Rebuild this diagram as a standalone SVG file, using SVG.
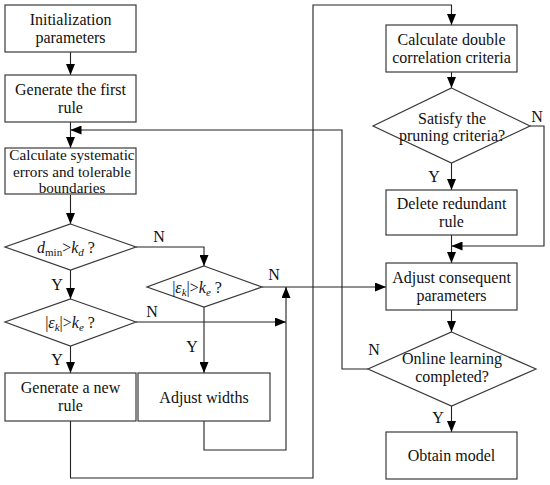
<svg xmlns="http://www.w3.org/2000/svg" width="550" height="485" viewBox="0 0 550 485">
<defs>
<marker id="ah" markerUnits="userSpaceOnUse" markerWidth="11" markerHeight="9" viewBox="0 0 11 9" refX="11" refY="4.5" orient="auto">
<path d="M0,0 L11,4.5 L0,9 Z" fill="#000"/>
</marker>
<style>
.b{fill:#fff;stroke:#3a3a3a;stroke-width:1.2}
.t{font-family:"Liberation Serif","Times New Roman",serif;font-size:16px;fill:#111;text-anchor:middle}
.l{font-family:"Liberation Serif","Times New Roman",serif;font-size:16px;fill:#111;text-anchor:middle}
.c{fill:none;stroke:#222;stroke-width:1.1;marker-end:url(#ah)}
.p{fill:none;stroke:#222;stroke-width:1.1}
.i{font-style:italic}
</style>
</defs>
<rect width="550" height="485" fill="#fff"/>
<g id="connectors">
<path class="c" d="M70.5,52 V75"/>
<path class="c" d="M70.5,122 V148"/>
<path class="c" d="M368,369 H342 V130 H70.5"/>
<path class="c" d="M70.5,195 V224"/>
<path class="c" d="M136,247 H204 V266"/>
<path class="c" d="M70.5,270 V299"/>
<path class="c" d="M262,287 H386"/>
<path class="c" d="M136,322 H286"/>
<path class="c" d="M204,307 V373"/>
<path class="c" d="M70.5,346 V373"/>
<path class="c" d="M204,421 V450 H286 V287"/>
<path class="c" d="M70.5,421 V478 H313 V5 H451.5 V25"/>
<path class="c" d="M451.5,72 V88"/>
<path class="c" d="M451.5,163 V190"/>
<path class="c" d="M530,126 H544 V246 H451.5"/>
<path class="c" d="M451.5,235 V263"/>
<path class="c" d="M451.5,310 V332"/>
<path class="c" d="M451.5,406 V432"/>
</g>
<g id="init">
<rect class="b" x="5" y="5" width="131" height="47"/>
<text class="t" x="70.5" y="25">Initialization</text>
<text class="t" x="70.5" y="43">parameters</text>
</g>
<g id="first-rule">
<rect class="b" x="5" y="75" width="131" height="47"/>
<text class="t" x="70.5" y="95">Generate the first</text>
<text class="t" x="70.5" y="113">rule</text>
</g>
<g id="calc-errors">
<rect class="b" x="5" y="148" width="131" height="46"/>
<text class="t" x="72" y="160" style="font-size:15.2px">Calculate systematic</text>
<text class="t" x="72" y="177" style="font-size:15.2px">errors and tolerable</text>
<text class="t" x="72" y="193" style="font-size:15.2px">boundaries</text>
</g>
<g id="dmin-check">
<polygon class="b" points="70.5,224 136,247 70.5,270 5,247"/>
<text class="t" x="66" y="253"><tspan class="i">d</tspan><tspan font-size="11" dy="3">min</tspan><tspan dy="-3">&gt;</tspan><tspan class="i">k</tspan><tspan class="i" font-size="11" dy="3">d</tspan><tspan dy="-3"> ?</tspan></text>
</g>
<g id="err-check-left">
<polygon class="b" points="70.5,299 136,322 70.5,346 5,322"/>
<text class="t" x="70" y="328">|<tspan class="i">ε</tspan><tspan class="i" font-size="11" dy="3">k</tspan><tspan dy="-3">|&gt;</tspan><tspan class="i">k</tspan><tspan class="i" font-size="11" dy="3">e</tspan><tspan dy="-3"> ?</tspan></text>
</g>
<g id="err-check-right">
<polygon class="b" points="204,266 262,287 204,307 147,287"/>
<text class="t" x="197" y="293">|<tspan class="i">ε</tspan><tspan class="i" font-size="11" dy="3">k</tspan><tspan dy="-3">|&gt;</tspan><tspan class="i">k</tspan><tspan class="i" font-size="11" dy="3">e</tspan><tspan dy="-3"> ?</tspan></text>
</g>
<g id="new-rule">
<rect class="b" x="5" y="373" width="131" height="48"/>
<text class="t" x="70.5" y="393">Generate a new</text>
<text class="t" x="70.5" y="411">rule</text>
</g>
<g id="adjust-widths">
<rect class="b" x="138" y="373" width="132" height="48"/>
<text class="t" x="204" y="403">Adjust widths</text>
</g>
<g id="calc-double">
<rect class="b" x="386" y="25" width="131" height="47"/>
<text class="t" x="451.5" y="45">Calculate double</text>
<text class="t" x="451.5" y="63">correlation criteria</text>
</g>
<g id="pruning-check">
<polygon class="b" points="451.5,88 530,126 451.5,163 373,126"/>
<text class="t" x="452" y="124">Satisfy the</text>
<text class="t" x="452" y="141">pruning criteria?</text>
</g>
<g id="delete-rule">
<rect class="b" x="386" y="190" width="131" height="45"/>
<text class="t" x="451.5" y="209">Delete redundant</text>
<text class="t" x="451.5" y="227">rule</text>
</g>
<g id="adjust-consequent">
<rect class="b" x="386" y="263" width="131" height="47"/>
<text class="t" x="451.5" y="283">Adjust consequent</text>
<text class="t" x="451.5" y="301">parameters</text>
</g>
<g id="online-check">
<polygon class="b" points="451.5,332 536,369 451.5,406 368,369"/>
<text class="t" x="452" y="364">Online learning</text>
<text class="t" x="452" y="382">completed?</text>
</g>
<g id="obtain-model">
<rect class="b" x="386" y="432" width="131" height="47"/>
<text class="t" x="451.5" y="461">Obtain model</text>
</g>
<g id="labels">
<text class="l" x="159" y="242">N</text>
<text class="l" x="57" y="290">Y</text>
<text class="l" x="152" y="317">N</text>
<text class="l" x="57" y="365">Y</text>
<text class="l" x="192" y="352">Y</text>
<text class="l" x="274" y="280">N</text>
<text class="l" x="537" y="122">N</text>
<text class="l" x="434" y="182">Y</text>
<text class="l" x="374" y="355">N</text>
<text class="l" x="438" y="423">Y</text>
</g>
</svg>
